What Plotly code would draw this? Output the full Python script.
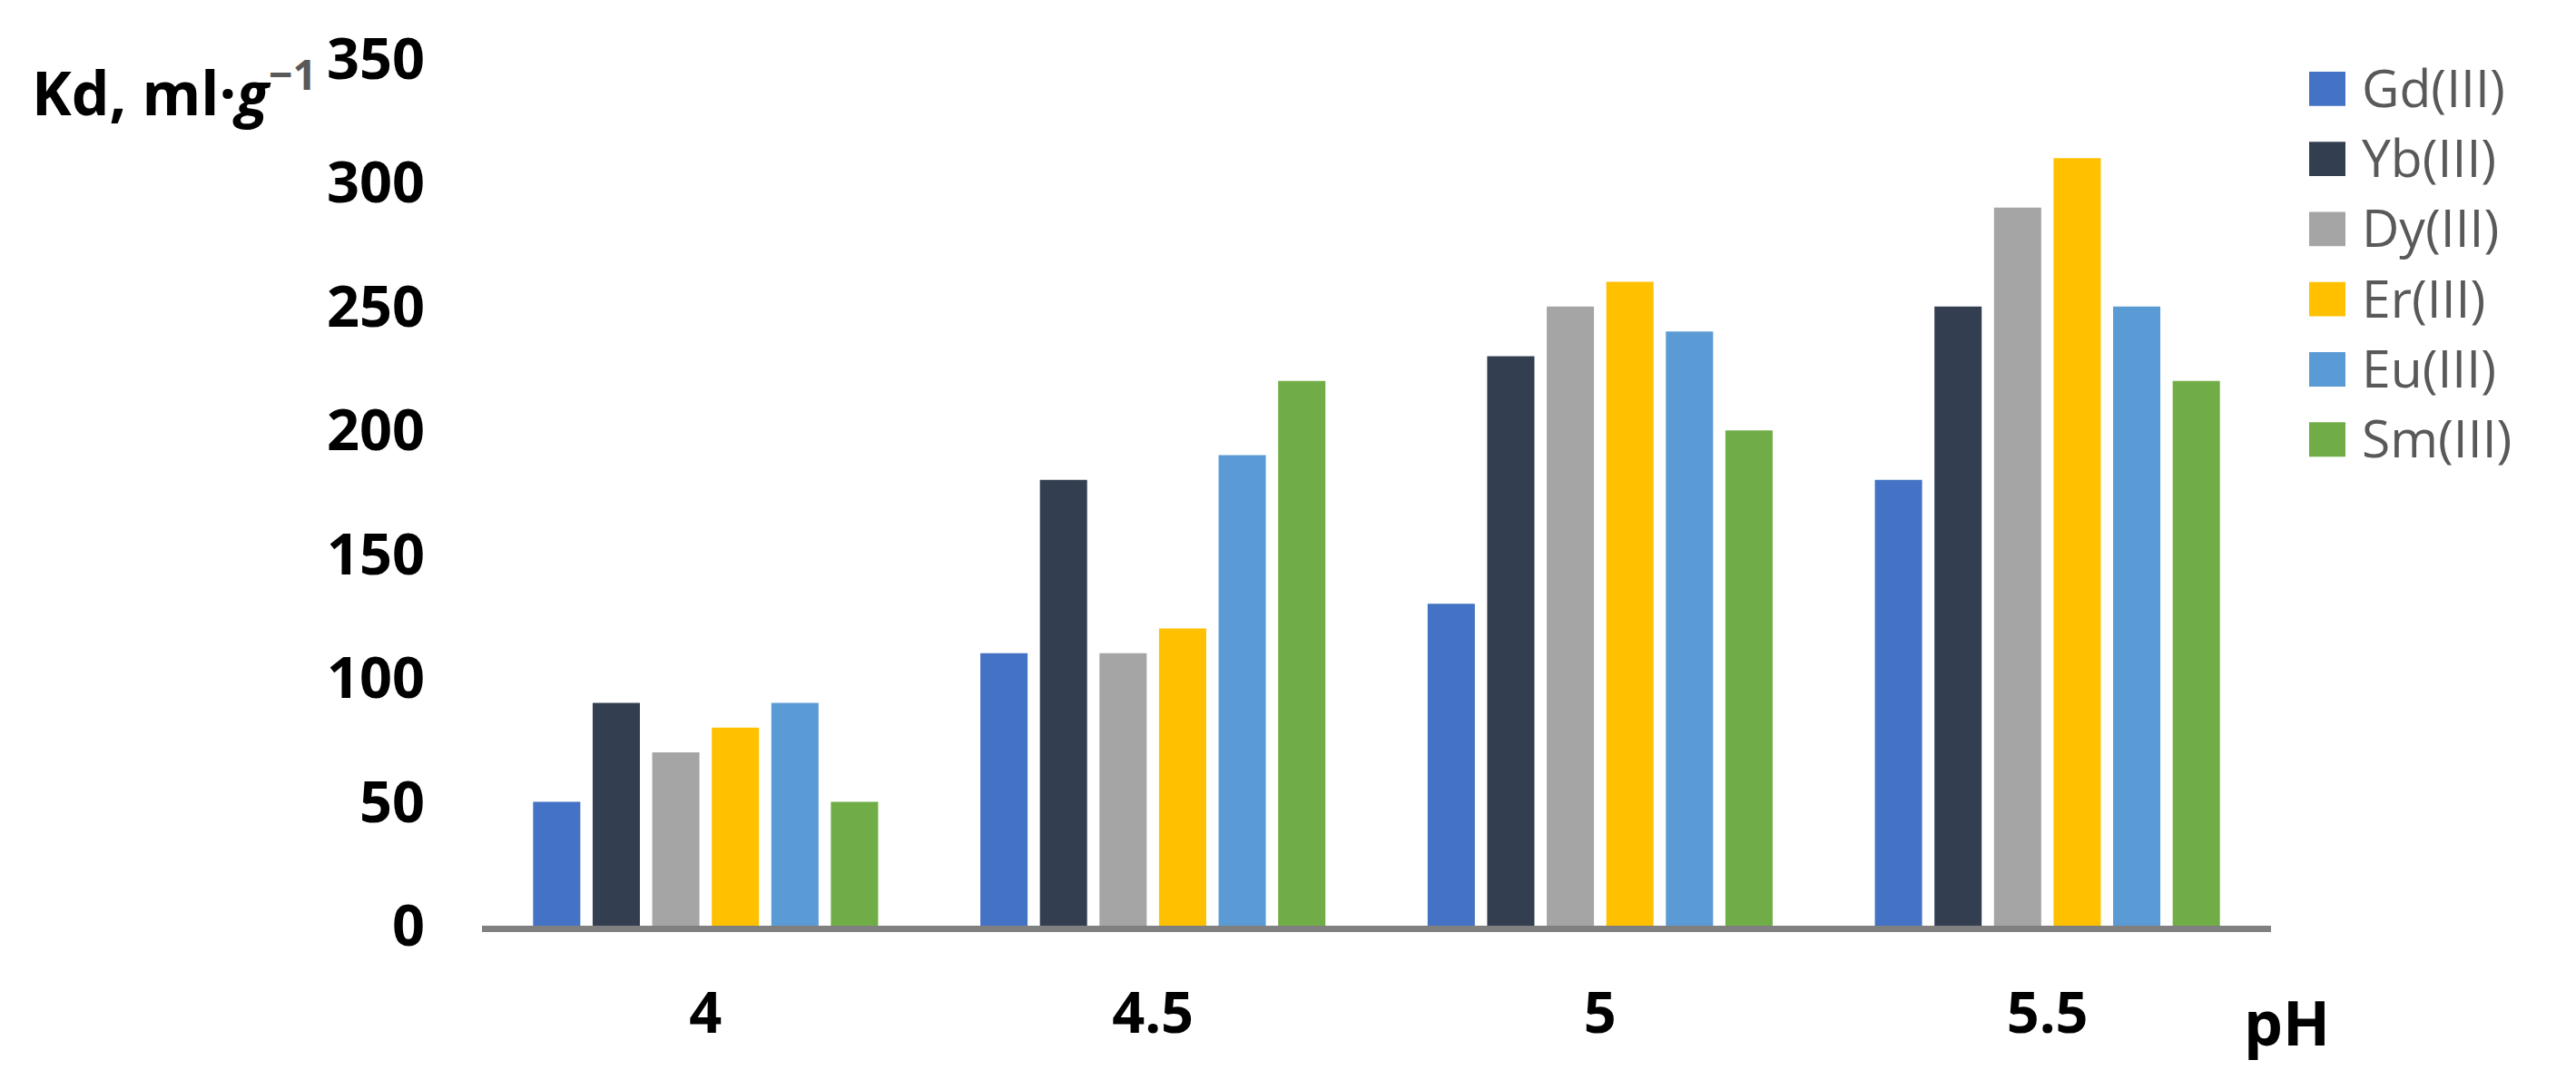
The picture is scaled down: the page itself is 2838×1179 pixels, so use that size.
#!/usr/bin/env python
"""Kd of Ln(III) ions vs pH — grouped bar chart (Excel-style), rebuilt in Plotly -> out.html"""
import plotly.graph_objects as go

PH = ["4", "4.5", "5", "5.5"]
IONS = ["Gd(III)", "Yb(III)", "Dy(III)", "Er(III)", "Eu(III)", "Sm(III)"]
KD_GD = [50, 110, 130, 180]
KD_YB = [90, 180, 230, 250]
KD_DY = [70, 110, 250, 290]
KD_ER = [80, 120, 260, 310]
KD_EU = [90, 190, 240, 250]
KD_SM = [50, 220, 200, 220]
Y_TICKS = [0, 50, 100, 150, 200, 250, 300, 350]

COLORS = ["#4472C4", "#333F50", "#A5A5A5", "#FFC000", "#5B9BD5", "#70AD47"]
FONT = "Open Sans"

# target page geometry in px: plot area 531..2502 x 61..1020.
# the html body adds an 8px margin, so the figure itself is offset by that.
W, H = 2838, 1179
BODY = 8
L, T = 531 - BODY, 61 - BODY
PW, PH_ = 1971, 959
R, B = W - L - PW, H - T - PH_


def px(x):  # page pixel x -> paper x
    return (x - 531) / PW


def py(y):  # page pixel y -> paper y
    return (1020 - y) / PH_


fig = go.Figure()
for name, vals, col in zip(IONS, [KD_GD, KD_YB, KD_DY, KD_ER, KD_EU, KD_SM], COLORS):
    fig.add_trace(go.Bar(x=PH, y=vals, name=name, marker=dict(color=col, line_width=0)))

# legend drawn by hand: Plotly's bar legend swatch is fixed at 12px
for i, (name, col) in enumerate(zip(IONS, COLORS)):
    y0 = 75 + i * 77.6
    fig.add_shape(type="rect", xref="paper", yref="paper",
                  x0=px(2544), x1=px(2584), y0=py(y0), y1=py(y0 + 38),
                  fillcolor=col, line_width=0)
    fig.add_annotation(xref="paper", yref="paper", x=px(2600), y=py(y0 + 17),
                       xanchor="left", yanchor="middle", showarrow=False, text=name,
                       font=dict(family=FONT, size=57, color="#595959"))

fig.add_annotation(xref="paper", yref="paper", x=px(33), y=py(94),
                   xanchor="left", yanchor="middle", showarrow=False,
                   text="<b>Kd, ml·<i>g</i><sup><span style='color:#595959'>−1</span></sup></b>",
                   font=dict(family=FONT, size=66, color="black"))
fig.add_annotation(xref="paper", yref="paper", x=px(2470), y=py(1126),
                   xanchor="left", yanchor="middle", showarrow=False, text="<b>pH</b>",
                   font=dict(family=FONT, size=68, color="black"))

fig.update_layout(
    width=W, height=H, margin=dict(l=L, r=R, t=T, b=B),
    plot_bgcolor="white", paper_bgcolor="white", showlegend=False,
    barmode="group", bargap=0.201, bargroupgap=0.207,
    font=dict(family=FONT, color="black"),
)
fig.update_xaxes(type="category", range=[-0.5, 3.5], showgrid=False, ticks="",
                 showline=True, linecolor="#808080", linewidth=7,
                 tickfont=dict(family=FONT, size=63, color="black", weight="bold"),
                 ticklabelstandoff=35)
fig.update_yaxes(range=[0, 350], tickvals=Y_TICKS, showgrid=False, zeroline=False,
                 showline=False, ticks="",
                 tickfont=dict(family=FONT, size=63, color="black", weight="bold"),
                 ticklabelstandoff=62)

fig.write_html("out.html")
